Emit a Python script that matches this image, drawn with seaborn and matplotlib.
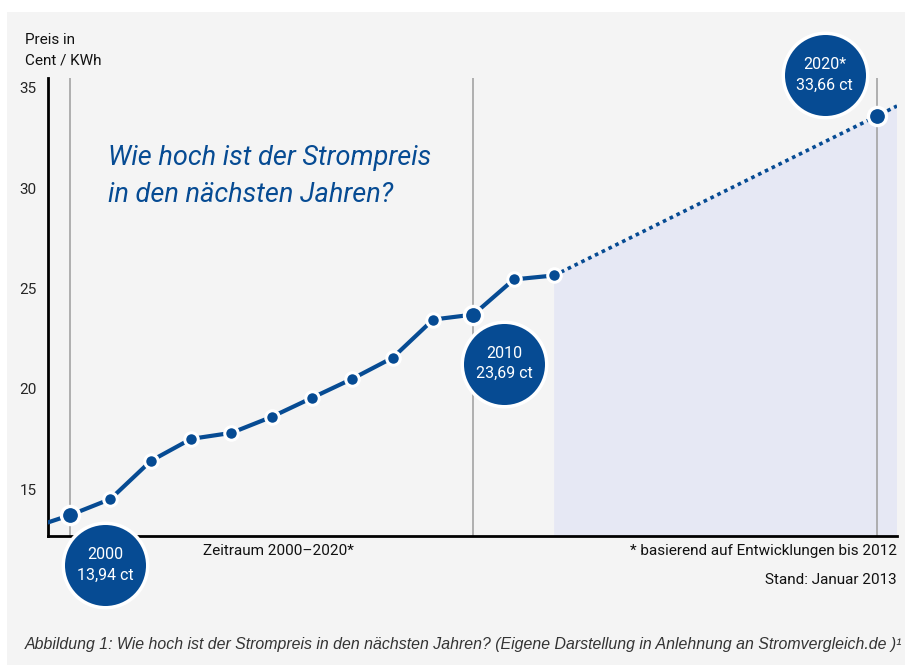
import matplotlib
matplotlib.use('Agg')
import matplotlib.pyplot as plt
import matplotlib.transforms as mtransforms
from matplotlib.patches import Rectangle
import seaborn as sns
import pandas as pd

# measured prices (cent / kWh)
years = [2000, 2001, 2002, 2003, 2004, 2005, 2006, 2007, 2008, 2009, 2010, 2011, 2012]
prices = [13.7, 14.5, 16.4, 17.5, 17.8, 18.6, 19.55, 20.5, 21.55, 23.45, 23.7, 25.45, 25.65]

# line running in from the left edge before 2000
lead_years = [1999.4, 2000]
lead_prices = [13.3, 13.7]

# forecast up to 2020 and a bit beyond
forecast_years = [2012, 2020, 2020.5]
forecast_prices = [25.65, 33.6, 34.1]

# highlighted years with their labels
key_years = [2000, 2010, 2020]
key_prices = [13.7, 23.7, 33.6]
key_labels = ['2000\n13,94 ct', '2010\n23,69 ct', '2020*\n33,66 ct']

y_ticks = [15, 20, 25, 30, 35]

blue = '#064b93'
panel = '#f4f4f4'

sns.set_style('white')
plt.rcParams['font.family'] = ['Roboto', 'DejaVu Sans']

fig = plt.figure(figsize=(9.1, 6.66), dpi=100)
fig.patch.set_facecolor('white')
fig.patches.append(Rectangle((7 / 910, 0.002), 898 / 910, 0.98, transform=fig.transFigure,
                             facecolor=panel, edgecolor='none', zorder=-10))

ax = fig.add_axes([0.0527, 0.195, 0.933, 0.688])
ax.set_facecolor(panel)

# shaded forecast area
ax.fill_between(forecast_years, forecast_prices, 0, color='#e6e8f4', zorder=1, linewidth=0)

# reference lines for 2000 / 2010 / 2020
for yr in key_years:
    ax.axvline(yr, color='#a3a3a3', linewidth=1.2, zorder=2)

# dotted forecast line
sns.lineplot(x=forecast_years, y=forecast_prices, ax=ax, color=blue, linewidth=2.6,
             linestyle=(0, (1, 1.1)), zorder=3)

# solid measured line
sns.lineplot(x=lead_years, y=lead_prices, ax=ax, color=blue, linewidth=3, zorder=3)
sns.lineplot(x=years, y=prices, ax=ax, color=blue, linewidth=3, zorder=3)
small = pd.DataFrame({'year': years, 'price': prices})
small = small[~small['year'].isin(key_years)]
sns.scatterplot(data=small, x='year', y='price', ax=ax, color=blue, s=95,
                edgecolor='white', linewidth=2.2, zorder=4, clip_on=False)
sns.scatterplot(x=key_years, y=key_prices, ax=ax, color=blue, s=170,
                edgecolor='white', linewidth=2.4, zorder=5, clip_on=False)

# label bubbles, offset in pixels from their points
offsets = [(35, -50), (31, -49), (-52, 41)]
for yr, pr, lab, (dx, dy) in zip(key_years, key_prices, key_labels, offsets):
    tr = mtransforms.offset_copy(ax.transData, fig=fig, x=dx, y=dy, units='dots')
    ax.scatter([yr], [pr], s=3700, color=blue, edgecolor='white', linewidth=2.5,
               transform=tr, zorder=6, clip_on=False)
    ax.text(yr, pr, lab, transform=tr, ha='center', va='center', color='white',
            fontsize=11.5, linespacing=1.45, zorder=7)

ax.set_xlim(1999.45, 2020.5)
ax.set_ylim(12.65, 35.5)
ax.set_yticks(y_ticks)
ax.set_xticks([])
ax.tick_params(axis='y', length=0, labelsize=11, pad=8)
ax.set_xlabel('')
ax.set_ylabel('')
for side in ['top', 'right']:
    ax.spines[side].set_visible(False)
for side in ['left', 'bottom']:
    ax.spines[side].set_color('black')
    ax.spines[side].set_linewidth(2)

# headline inside the plot
ax.text(2000.95, 30.6, 'Wie hoch ist der Strompreis\nin den nächsten Jahren?', color=blue,
        fontsize=19.5, style='italic', linespacing=1.55, va='center', ha='left')

# axis texts and notes
fig.text(25 / 910, 1 - 50 / 666, 'Preis in\nCent / KWh', fontsize=11, va='center', ha='left',
         linespacing=1.6, color='#111111')
fig.text(278 / 910, 1 - 551 / 666, 'Zeitraum 2000–2020*', fontsize=11, ha='center', va='center',
         color='#111111')
fig.text(897 / 910, 1 - 551 / 666, '* basierend auf Entwicklungen bis 2012', fontsize=11,
         ha='right', va='center', color='#111111')
fig.text(897 / 910, 1 - 580 / 666, 'Stand: Januar 2013', fontsize=11, ha='right', va='center',
         color='#111111')
fig.text(25 / 910, 1 - 645 / 666,
         'Abbildung 1: Wie hoch ist der Strompreis in den nächsten Jahren? '
         '(Eigene Darstellung in Anlehnung an Stromvergleich.de )¹',
         fontsize=11.4, style='italic', ha='left', va='center', color='#333333',
         family=['Liberation Sans', 'DejaVu Sans'])

plt.savefig('out.png', dpi=100)
